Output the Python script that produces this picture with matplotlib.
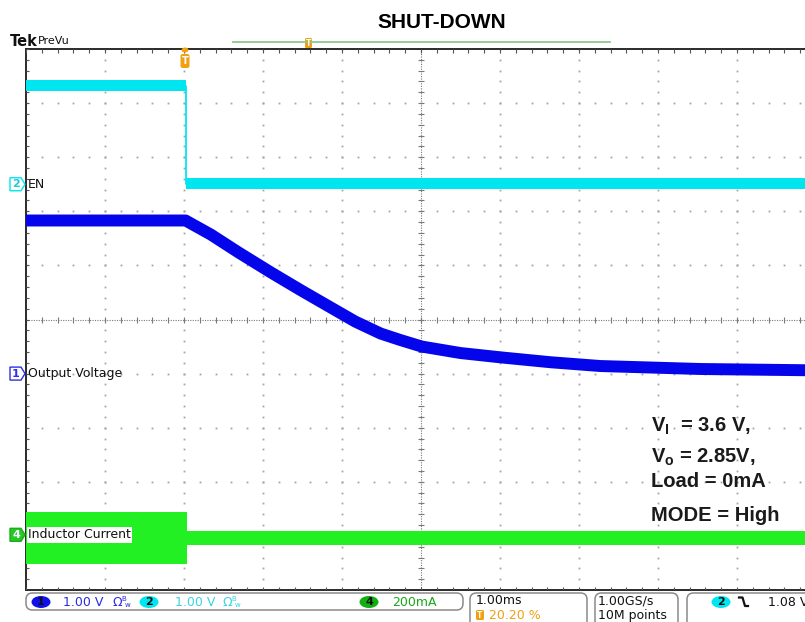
import numpy as np
import matplotlib
matplotlib.use("Agg")
import matplotlib.pyplot as plt
import matplotlib.transforms as mtransforms
from matplotlib.patches import FancyBboxPatch, Ellipse, Polygon
from matplotlib.collections import LineCollection

W, H = 805, 622
plt.rcParams['mathtext.fontset'] = 'custom'
plt.rcParams['mathtext.rm'] = 'Liberation Sans:bold'
plt.rcParams['mathtext.default'] = 'rm'

# ---- acquisition: 1 ms/div, trigger at 20.2 % of the record ----
t_left, t_right = -2.02, 7.98          # ms relative to trigger

# channel 1: output voltage (1 V/div)
ch1_t = [-2.02, 0.00, 0.32, 0.67, 1.08, 1.46, 1.84, 2.15, 2.47, 2.72,
         2.99, 3.48, 3.99, 4.62, 5.25, 6.52, 7.98]
ch1_v = [2.83, 2.83, 2.57, 2.24, 1.87, 1.54, 1.22, 0.96, 0.74, 0.62,
         0.50, 0.38, 0.30, 0.21, 0.14, 0.085, 0.06]
ch1_pos, ch1_scale = -1.0, 1.0

# channel 2: EN (1 V/div)
ch2_t = [-2.02, 0.00, 0.00, 7.98]
ch2_v = [1.82, 1.82, 0.01, 0.01]
ch2_pos, ch2_scale = 2.5, 1.0

# channel 4: inductor current envelope (200 mA/div)
ch4_t = [-2.02, 0.02, 0.02, 7.98]
ch4_hi = [84, 84, 13, 13]
ch4_lo = [-109, -109, -39, -39]
ch4_pos, ch4_scale = -3.98, 200.0

C_BLUE = '#0505ec'
C_CYAN = '#00e6f0'
C_GREEN = '#22f022'
C_ORANGE = '#f0a010'

fig = plt.figure(figsize=(W / 100, H / 100), dpi=100)
fig.patch.set_facecolor('white')
ax = fig.add_axes([26 / W, (H - 590) / H, 790 / W, 541 / H])
ax.set_xlim(t_left, t_right)
ax.set_ylim(-5, 5)
ax.axis('off')

PX_X = (t_right - t_left) / 790.0    # ms per pixel
PX_Y = 10.0 / 541.0                  # div per pixel

# ---- graticule ----
minor_x = t_left + np.arange(0, 51) * 0.2
minor_y = -5 + np.arange(0, 51) * 0.2
t_center = t_left + 5
grid_col = '#a4a4a4'
for k in range(1, 10):
    if k == 5:
        continue
    gt = t_left + k
    ax.plot(np.full_like(minor_y, gt), minor_y, ls='none', marker='s',
            ms=1.3, mew=0, color=grid_col, zorder=1)
for gy in range(-4, 5):
    if gy == 0:
        continue
    ax.plot(minor_x, np.full_like(minor_x, gy), ls='none', marker='s',
            ms=1.3, mew=0, color=grid_col, zorder=1)

# centre cross with ticks
ax.plot([t_center, t_center], [-5, 5], ls=(0, (1, 1.2)), lw=0.8,
        color='#7a7a7a', zorder=1)
ax.plot([t_left, t_right], [0, 0], ls=(0, (1, 1.2)), lw=0.8,
        color='#7a7a7a', zorder=1)
segs = [[(t_center - 3 * PX_X, y), (t_center + 3 * PX_X, y)] for y in minor_y]
segs += [[(x, -3 * PX_Y), (x, 3 * PX_Y)] for x in minor_x]
ax.add_collection(LineCollection(segs, colors='#7a7a7a', lw=0.8, zorder=1))

# frame edges with ticks
ax.plot([t_left, t_right], [5, 5], color='#2a2a2a', lw=1.4, clip_on=False, zorder=3)
ax.plot([t_left, t_left], [-5, 5], color='#2a2a2a', lw=1.4, clip_on=False, zorder=3)
ax.plot([t_left, t_right], [-5, -5], color='#2a2a2a', lw=1.4, clip_on=False, zorder=3)
segs = [[(x, 5), (x, 5 - 3.5 * PX_Y)] for x in minor_x]
segs += [[(x, -5), (x, -5 + 3.5 * PX_Y)] for x in minor_x]
segs += [[(t_left, y), (t_left + 3 * PX_X, y)] for y in minor_y]
ax.add_collection(LineCollection(segs, colors='#555555', lw=0.8, zorder=3))

# ---- traces ----
y2 = ch2_pos + np.array(ch2_v) / ch2_scale
ax.fill_between(ch2_t, y2 - 5.5 * PX_Y, y2 + 5.5 * PX_Y, color=C_CYAN,
                lw=0, zorder=4)
ax.plot(ch2_t, y2, color=C_CYAN, lw=1.3, zorder=4)

y1 = ch1_pos + np.array(ch1_v) / ch1_scale
ax.plot(ch1_t, y1, color=C_BLUE, lw=8.6, solid_capstyle='butt',
        solid_joinstyle='round', zorder=5)

y4hi = ch4_pos + np.array(ch4_hi) / ch4_scale
y4lo = ch4_pos + np.array(ch4_lo) / ch4_scale
ax.fill_between(ch4_t, y4lo, y4hi, color=C_GREEN, lw=0, zorder=4)

# ---- channel ground markers and labels ----
blend = mtransforms.blended_transform_factory(fig.transFigure, ax.transData)


def ch_marker(pos, num, edge, fill, txt_col):
    hh = 6.5 * PX_Y
    verts = [(10 / W, pos - hh), (21 / W, pos - hh), (25 / W, pos),
             (21 / W, pos + hh), (10 / W, pos + hh)]
    ax.add_patch(Polygon(verts, closed=True, transform=blend, clip_on=False,
                         fc=fill, ec=edge, lw=1.0, zorder=7))
    ax.text(16 / W, pos, num, transform=blend, ha='center', va='center',
            fontsize=8, color=txt_col, fontweight='bold', zorder=8,
            clip_on=False)


ch_marker(ch2_pos, '2', C_CYAN, 'white', '#20c8d8')
ch_marker(ch1_pos, '1', '#3030e0', 'white', '#3030e0')
ch_marker(ch4_pos, '4', '#18b018', '#28c828', 'white')

lab_kw = dict(transform=blend, ha='left', va='center', fontsize=9,
              color='#111111', family='DejaVu Sans', zorder=8, clip_on=False)
ax.text(28 / W, ch2_pos, 'EN', **lab_kw)
ax.text(28 / W, ch1_pos, 'Output Voltage', **lab_kw)
ax.text(28 / W, ch4_pos, 'Inductor Current',
        bbox=dict(fc='white', ec='none', pad=1.0), **lab_kw)


def fx(x):
    return x / W


def fy(y):
    return 1 - y / H


# ---- header ----
fig.text(fx(10), fy(42), 'Tek', fontsize=10.5, fontweight='bold',
         family='DejaVu Sans', va='center', ha='left', color='#111111')
fig.text(fx(38), fy(41), 'PreVu', fontsize=8, family='DejaVu Sans',
         va='center', ha='left', color='#111111')
fig.text(fx(442), fy(22), 'SHUT-DOWN', fontsize=15, fontweight='bold',
         family='Liberation Sans', ha='center', va='center', color='black')

# record overview bar
fig.add_artist(plt.Line2D([fx(233), fx(610)], [fy(42), fy(42)],
                          color='#8cc88c', lw=1.3))
fig.add_artist(FancyBboxPatch((fx(305), fy(48)), 7 / W, 10 / H,
                              boxstyle='round,pad=0,rounding_size=0.002',
                              fc=C_ORANGE, ec='none'))
fig.text(fx(308.5), fy(43), 'T', fontsize=5.5, color='white',
         fontweight='bold', ha='center', va='center')

# trigger position marker
fig.add_artist(Ellipse((fx(185), fy(50)), 7 / W, 5 / H, fc=C_ORANGE, ec='none'))
fig.add_artist(FancyBboxPatch((fx(180.5), fy(68)), 9 / W, 14 / H,
                              boxstyle='round,pad=0,rounding_size=0.003',
                              fc=C_ORANGE, ec='none'))
fig.text(fx(185), fy(61), 'T', fontsize=7, color='white', fontweight='bold',
         ha='center', va='center')

# ---- conditions ----
ann_kw = dict(fontsize=14.5, fontweight='bold', family='Liberation Sans',
              ha='left', va='baseline', color='#1a1a1a')
fig.text(fx(651), fy(432), r'$V_I$  = 3.6 V,', **ann_kw)
fig.text(fx(651), fy(463), r'$V_o$ = 2.85V,', **ann_kw)
fig.text(fx(651), fy(487), 'Load = 0mA', **ann_kw)
fig.text(fx(651), fy(521), 'MODE = High', **ann_kw)

# ---- status bar ----
def box(x0, y0, x1, y1):
    fig.add_artist(FancyBboxPatch((fx(x0), fy(y1)), (x1 - x0) / W, (y1 - y0) / H,
                                  boxstyle='round,pad=0,rounding_size=0.008',
                                  fc='white', ec='#8a8a8a', lw=1.1,
                                  mutation_aspect=W / H))


box(26, 593, 463, 610)
box(470, 593, 587, 632)
box(595, 593, 678, 632)
box(687, 593, 840, 632)


def badge(xc, yc, num, fill):
    fig.add_artist(Ellipse((fx(xc), fy(yc)), 19 / W, 12 / H, fc=fill, ec='none'))
    fig.text(fx(xc), fy(yc), num, fontsize=8, fontweight='bold', color='#101010',
             ha='center', va='center')


st_kw = dict(fontsize=9, family='DejaVu Sans', va='center', ha='left')
badge(41, 602, '1', '#1010e8')
fig.text(fx(63), fy(602), '1.00 V', color='#2a2ae0', **st_kw)
fig.text(fx(112), fy(602), 'Ω', color='#2a2ae0', **st_kw)
fig.text(fx(121), fy(599), 'B', color='#2a2ae0', fontsize=5, va='center')
fig.text(fx(125), fy(605), 'w', color='#2a2ae0', fontsize=5, va='center')
badge(149, 602, '2', C_CYAN)
fig.text(fx(175), fy(602), '1.00 V', color='#38d4e0', **st_kw)
fig.text(fx(222), fy(602), 'Ω', color='#38d4e0', **st_kw)
fig.text(fx(231), fy(599), 'B', color='#38d4e0', fontsize=5, va='center')
fig.text(fx(235), fy(605), 'w', color='#38d4e0', fontsize=5, va='center')
badge(369, 602, '4', '#10b010')
fig.text(fx(392), fy(602), '200mA', color='#18a818', **st_kw)

fig.text(fx(476), fy(601), '1.00ms', color='#111111', **st_kw)
fig.add_artist(FancyBboxPatch((fx(476), fy(620)), 8 / W, 10 / H,
                              boxstyle='round,pad=0,rounding_size=0.002',
                              fc=C_ORANGE, ec='none'))
fig.text(fx(480), fy(615), 'T', fontsize=5.5, color='white', fontweight='bold',
         ha='center', va='center')
fig.text(fx(489), fy(615.5), '20.20 %', color=C_ORANGE, **st_kw)

fig.text(fx(598), fy(601), '1.00GS/s', color='#111111', **st_kw)
fig.text(fx(598), fy(615.5), '10M points', color='#111111', **st_kw)

badge(721, 602, '2', C_CYAN)
fig.add_artist(plt.Line2D([fx(739), fx(742.5), fx(745), fx(748)],
                          [fy(597.5), fy(597.5), fy(606), fy(606)],
                          color='#111111', lw=1.6))
fig.text(fx(768), fy(602), '1.08 V', color='#111111', **st_kw)

fig.savefig('out.png', dpi=100, facecolor='white')
